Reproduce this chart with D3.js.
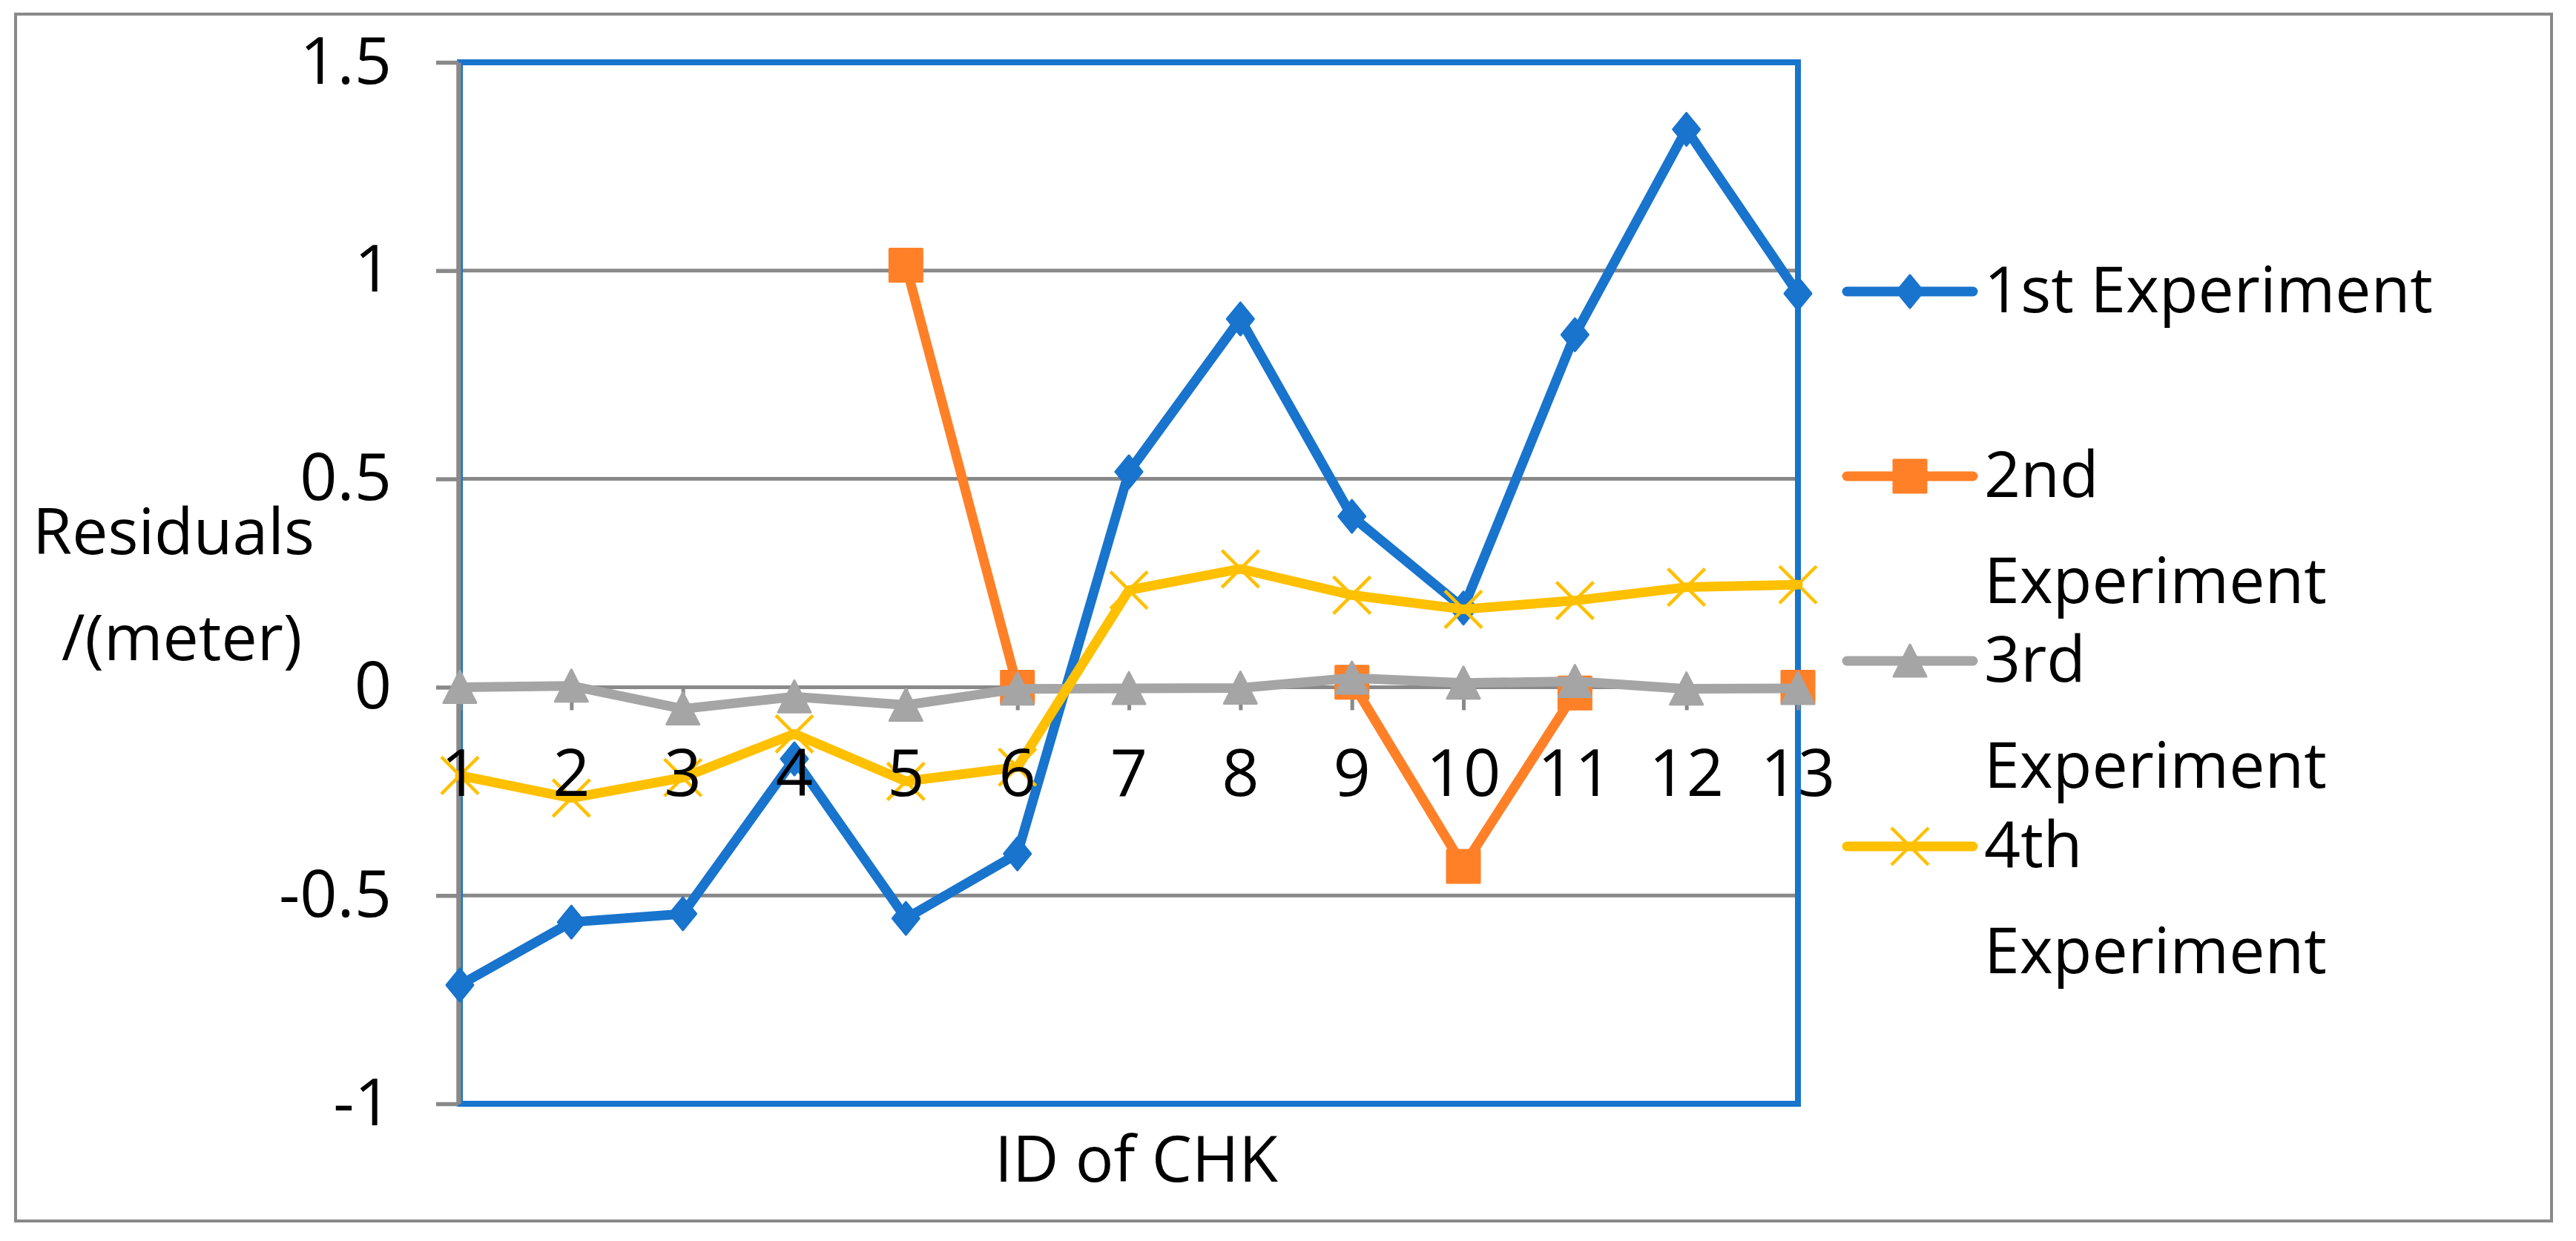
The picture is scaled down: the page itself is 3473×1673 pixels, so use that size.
<!DOCTYPE html>
<html>
<head>
<meta charset="utf-8">
<script src="https://cdn.jsdelivr.net/npm/d3@7"></script>
<style>
  html, body { margin: 0; padding: 0; background: #fff; }
  svg { display: block; }
  text { font-family: "Open Sans", "Noto Sans", sans-serif; fill: #000; }
</style>
</head>
<body>
<svg id="chart" width="3473" height="1673"></svg>
<script>
// ---- Data ----
const categories = ["1","2","3","4","5","6","7","8","9","10","11","12","13"];
const seriesNames = ["1st Experiment", "2nd Experiment", "3rd Experiment", "4th Experiment"];
const exp1 = [-0.715, -0.564, -0.544, -0.172, -0.555, -0.400, 0.517, 0.884, 0.410, 0.19, 0.846, 1.339, 0.945];
const exp2 = [null, null, null, null, 1.013, 0.0, null, null, 0.012, -0.43, -0.014, null, 0.0];
const exp3 = [0.0, 0.003, -0.052, -0.023, -0.043, -0.004, -0.003, -0.002, 0.022, 0.01, 0.014, -0.004, -0.003];
const exp4 = [-0.212, -0.266, -0.217, -0.112, -0.226, -0.192, 0.233, 0.284, 0.221, 0.187, 0.208, 0.240, 0.246];
const yTicks = [-1, -0.5, 0, 0.5, 1, 1.5];
const yLabelLines = ["Residuals", " /(meter)"];
const xTitle = "ID of CHK";
const legendLines = [["1st Experiment"], ["2nd", "Experiment"], ["3rd", "Experiment"], ["4th", "Experiment"]];

// ---- Styles ----
const colors = ["#1874CD", "#FF8027", "#A5A5A5", "#FFC000"];
const markers = ["diamond", "square", "triangle", "x"];
const gridColor = "#898989";
const fontSize = 86;

const svg = d3.select("#chart");
const L = 620, R = 2424, T = 84, B = 1488;

const x = d3.scalePoint().domain(categories).range([L, R]).padding(0);
const y = d3.scaleLinear().domain([-1, 1.5]).range([B, T]);

// outer border
svg.append("rect").attr("x", 21).attr("y", 19).attr("width", 3440 - 21).attr("height", 1646 - 19)
  .attr("fill", "#fff").attr("stroke", gridColor).attr("stroke-width", 4);

// gridlines
svg.append("g").selectAll("line").data(yTicks).join("line")
  .attr("x1", L).attr("x2", R).attr("y1", d => y(d)).attr("y2", d => y(d))
  .attr("stroke", gridColor).attr("stroke-width", 5);

// plot area border (blue)
svg.append("rect").attr("x", L).attr("y", T).attr("width", R - L).attr("height", B - T)
  .attr("fill", "none").attr("stroke", "#1874CD").attr("stroke-width", 8);

// y axis
const yAxis = d3.axisLeft(y).tickValues(yTicks).tickSizeInner(30).tickSizeOuter(0).tickPadding(60)
  .tickFormat(d => String(d));
const gy = svg.append("g").attr("transform", `translate(${L - 2},0)`).call(yAxis);
gy.select(".domain").attr("stroke", gridColor).attr("stroke-width", 6.5);
gy.selectAll(".tick line").attr("stroke", gridColor).attr("stroke-width", 5.5);
gy.selectAll(".tick text").attr("font-size", 88).attr("dy", "0.32em")
  .style("font-family", "'Open Sans', sans-serif").attr("fill", "#000");

// x axis (crossing at 0): ticks only; labels drawn later on top
const xAxis = d3.axisBottom(x).tickSizeInner(31).tickSizeOuter(0).tickFormat("");
const gx = svg.append("g").attr("transform", `translate(0,${y(0)})`).call(xAxis);
gx.select(".domain").remove();
gx.selectAll(".tick line").attr("stroke", gridColor).attr("stroke-width", 5);

// marker path generator
function markerPath(type) {
  if (type === "diamond") return "M0,-22 L18,0 L0,22 L-18,0 Z";
  if (type === "square") return "M-22,-22 L22,-22 L22,22 L-22,22 Z";
  if (type === "triangle") return "M0,-22 L22,21 L-22,21 Z";
  return "M-25,-25 L25,25 M-25,25 L25,-25";
}
function drawMarker(g, type, color, cx, cy) {
  const p = g.append("path").attr("d", markerPath(type)).attr("transform", `translate(${cx},${cy})`);
  if (type === "x") {
    p.attr("fill", "none").attr("stroke", color).attr("stroke-width", 4.5);
  } else {
    p.attr("fill", color).attr("stroke", color).attr("stroke-width", 3).attr("stroke-linejoin", "round");
  }
}

const allSeries = [exp1, exp2, exp3, exp4];
const line = d3.line().defined(d => d.v !== null).x(d => x(d.c)).y(d => y(d.v));

allSeries.forEach((vals, i) => {
  const data = vals.map((v, k) => ({ c: categories[k], v }));
  const g = svg.append("g");
  g.append("path").datum(data).attr("d", line).attr("fill", "none")
    .attr("stroke", colors[i]).attr("stroke-width", 13)
    .attr("stroke-linejoin", "round").attr("stroke-linecap", "round");
  data.filter(d => d.v !== null).forEach(d => drawMarker(g, markers[i], colors[i], x(d.c), y(d.v)));
});

// x tick labels on top
svg.append("g").selectAll("text").data(categories).join("text")
  .attr("x", d => x(d)).attr("y", 1073).attr("text-anchor", "middle")
  .attr("font-size", 88).text(d => d);

// y axis title
svg.append("g").selectAll("text").data(yLabelLines).join("text")
  .attr("x", 234).attr("y", (d, i) => 747 + i * 143).attr("text-anchor", "middle")
  .attr("font-size", fontSize).attr("xml:space", "preserve").style("white-space", "pre").text(d => d);

// x axis title
svg.append("text").attr("x", 1532).attr("y", 1593).attr("text-anchor", "middle")
  .attr("font-size", fontSize).text(xTitle);

// legend
const legendY = [393, 642, 891, 1141];
legendLines.forEach((lines, i) => {
  const g = svg.append("g");
  g.append("line").attr("x1", 2490).attr("x2", 2660).attr("y1", legendY[i]).attr("y2", legendY[i])
    .attr("stroke", colors[i]).attr("stroke-width", 13).attr("stroke-linecap", "round");
  drawMarker(g, markers[i], colors[i], 2575, legendY[i]);
  lines.forEach((t, j) => {
    g.append("text").attr("x", 2675).attr("y", legendY[i] + 28 + j * 143)
      .attr("font-size", fontSize).text(t);
  });
});
</script>
</body>
</html>
